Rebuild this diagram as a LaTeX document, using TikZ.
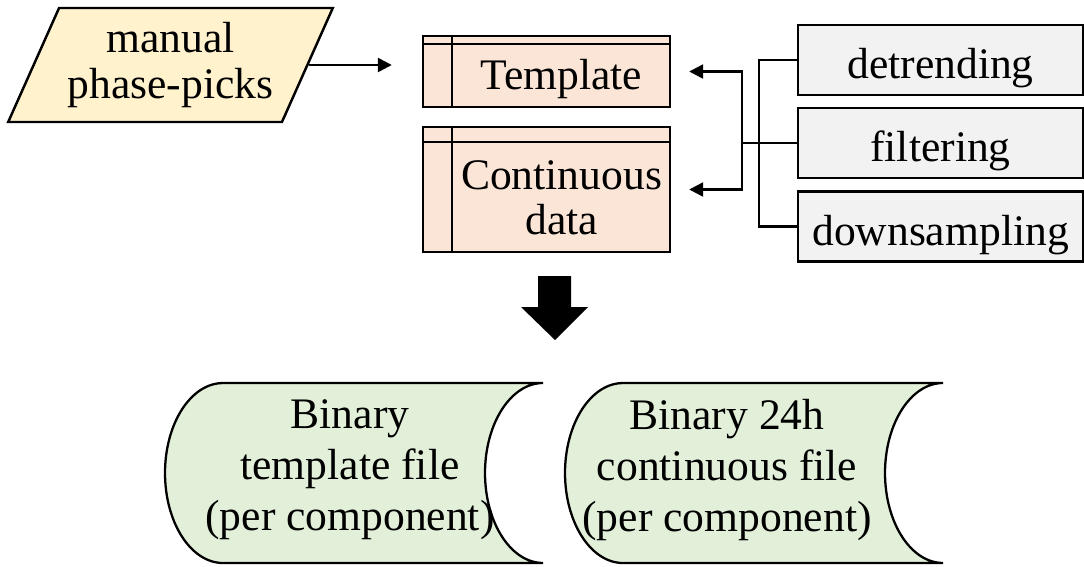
\documentclass[tikz,border=0pt]{standalone}
\usepackage{fontspec}
\setmainfont{Liberation Serif}
\usepackage{tikz}
\usetikzlibrary{shapes, arrows.meta, positioning, calc}

\definecolor{pickfill}{HTML}{FFF2CC}
\definecolor{blockfill}{HTML}{FBE5D6}
\definecolor{procfill}{HTML}{F2F2F2}
\definecolor{diskfill}{HTML}{E2F0D9}

\begin{document}
\begin{tikzpicture}[x=0.02cm, y=0.02cm,
        every node/.style={font=\fontsize{24.8}{25.6}\selectfont},
        picks/.style={trapezium, trapezium left angle=61.5, trapezium right angle=118.5, trapezium stretches=true, draw, line width=1.4pt, fill=pickfill, align=center, minimum width=6.5cm, minimum height=2.28cm, inner sep=0pt},
        block/.style={rectangle, draw, line width=1.4pt, fill=blockfill, minimum width=4.94cm},
        procbox/.style={rectangle, draw, line width=1.4pt, fill=procfill, minimum width=5.7cm, minimum height=1.4cm, text height=0.92cm, text depth=0.16cm, inner sep=0pt},
        txt/.style={align=center, inner sep=0pt},
        link/.style={line width=1.4pt},
        arrow/.style={link, -{Triangle[length=0.28cm, width=0.28cm]}},
        disk/.style={draw, line width=1.3pt, fill=diskfill}
    ]
        \useasboundingbox (0,0) rectangle (1084,566);

        % Input
        \node[picks, font=\fontsize{24.8}{26.7}\selectfont] (picks) at (170.5,501) {manual\\phase-picks};

        % Data blocks
        \node[block, minimum height=1.42cm] (template) at (546.5,494.5) {};
        \node[block, minimum height=2.5cm] (contdata) at (546.5,376.5) {};
        \foreach \blk/\gap in {template/9, contdata/16} {
            \draw[line width=1.4pt] ($(\blk.north west)+(0,-\gap)$) -- ($(\blk.north east)+(0,-\gap)$);
            \draw[line width=1.4pt] ($(\blk.north west)+(30,0)$) -- ($(\blk.south west)+(30,0)$);
        }
        \node[txt] (template-txt) at (561.5,487) {Template};
        \node[txt] (contdata-txt) at (561.5,368) {Continuous\\data};

        % Processing steps
        \node[procbox] (detrending) at (940.5,506) {detrending};
        \node[procbox] (filtering) at (940.5,423) {filtering};
        \node[procbox] (downsampling) at (940.5,339.5) {downsampling};

        % Connectors
        \draw[arrow, shorten >=0.6cm] (picks.right side) -- (picks.right side -| template.west);
        \draw[link] (detrending.west) -- ++(-38,0) |- (downsampling.west);
        \draw[link] (filtering.west) -- ++(-55,0) coordinate (merge);
        \draw[arrow, shorten >=0.36cm] (merge) |- (template.east);
        \draw[arrow, shorten >=0.36cm] (merge) |- (contdata.east);

        % Big arrow
        \fill (538,290) -- (571,290) -- (571,259) -- (588,259) -- (555,226) -- (521,259) -- (538,259) -- cycle;

        % Output files
        \draw[disk] (223,183) -- (543,183) arc[start angle=90, end angle=270, x radius=1.16cm, y radius=1.8cm] -- (223,3) arc[start angle=270, end angle=90, x radius=1.16cm, y radius=1.8cm] -- cycle;
        \draw[disk] (623,183) -- (943,183) arc[start angle=90, end angle=270, x radius=1.16cm, y radius=1.8cm] -- (623,3) arc[start angle=270, end angle=90, x radius=1.16cm, y radius=1.8cm] -- cycle;
        \node[txt, font=\fontsize{24.8}{29}\selectfont] (tmplfile) at (350,96) {Binary\\template file\\(per component)};
        \node[txt, font=\fontsize{24.8}{29}\selectfont] (contfile) at (727,96) {Binary 24h\\continuous file\\(per component)};
    \end{tikzpicture}
\end{document}
